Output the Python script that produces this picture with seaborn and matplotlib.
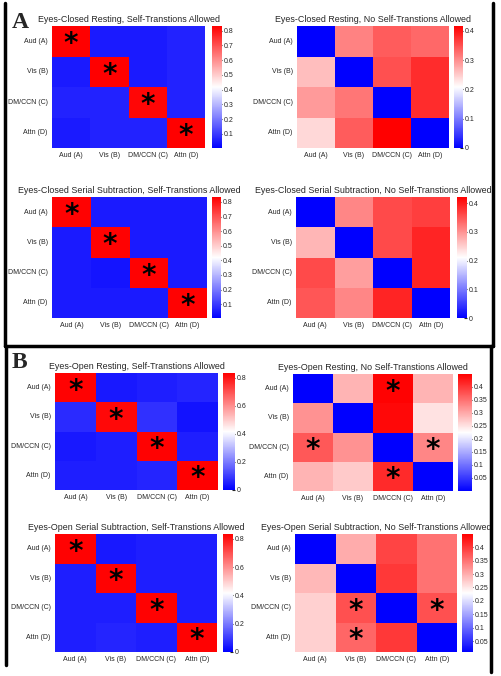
import numpy as np
import pandas as pd
import seaborn as sns
import matplotlib.pyplot as plt
from matplotlib.lines import Line2D

sns.set_style("white")
plt.rcParams['font.family'] = ['Liberation Sans', 'DejaVu Sans']

states = ["Aud (A)", "Vis (B)", "DM/CCN (C)", "Attn (D)"]

# transition probabilities (row = from, col = to)
ec_rest_self = [[0.83, 0.05, 0.05, 0.06],
                [0.05, 0.83, 0.05, 0.06],
                [0.06, 0.06, 0.82, 0.06],
                [0.05, 0.06, 0.06, 0.83]]
ec_rest_noself = [[0.00, 0.31, 0.34, 0.33],
                  [0.26, 0.00, 0.35, 0.38],
                  [0.29, 0.32, 0.00, 0.38],
                  [0.24, 0.34, 0.416, 0.00]]
ec_ss_self = [[0.83, 0.05, 0.05, 0.05],
              [0.05, 0.83, 0.05, 0.05],
              [0.05, 0.04, 0.83, 0.05],
              [0.05, 0.05, 0.05, 0.83]]
ec_ss_noself = [[0.00, 0.31, 0.36, 0.37],
                [0.27, 0.00, 0.36, 0.39],
                [0.36, 0.29, 0.00, 0.39],
                [0.35, 0.31, 0.39, 0.00]]
eo_rest_self = [[0.83, 0.04, 0.05, 0.06],
                [0.07, 0.82, 0.08, 0.03],
                [0.04, 0.05, 0.83, 0.05],
                [0.05, 0.05, 0.06, 0.835]]
eo_rest_noself = [[0.00, 0.29, 0.445, 0.29],
                  [0.32, 0.00, 0.44, 0.25],
                  [0.37, 0.32, 0.00, 0.33],
                  [0.29, 0.27, 0.41, 0.00]]
eo_ss_self = [[0.83, 0.04, 0.05, 0.05],
              [0.05, 0.83, 0.05, 0.05],
              [0.05, 0.05, 0.83, 0.05],
              [0.05, 0.06, 0.05, 0.83]]
eo_ss_noself = [[0.01, 0.30, 0.39, 0.35],
                [0.29, 0.01, 0.40, 0.35],
                [0.27, 0.38, 0.01, 0.38],
                [0.27, 0.36, 0.40, 0.01]]

diag_stars = [(0, 0), (1, 1), (2, 2), (3, 3)]
eo_rest_noself_stars = [(0, 2), (2, 0), (2, 3), (3, 2)]
eo_ss_noself_stars = [(2, 1), (2, 3), (3, 1)]

titles = [
    "Eyes-Closed Resting, Self-Transtions Allowed",
    "Eyes-Closed Resting, No Self-Transtions Allowed",
    "Eyes-Closed Serial Subtraction, Self-Transtions Allowed",
    "Eyes-Closed Serial Subtraction, No Self-Transtions Allowed",
    "Eyes-Open Resting, Self-Transtions Allowed",
    "Eyes-Open Resting, No Self-Transtions Allowed",
    "Eyes-Open Serial Subtraction, Self-Transtions Allowed",
    "Eyes-Open Serial Subtraction, No Self-Transtions Allowed",
]

W, H = 501, 676
fig = plt.figure(figsize=(W / 100, H / 100), dpi=100)

def px_box(x0, y0, x1, y1):
    return [x0 / W, 1 - y1 / H, (x1 - x0) / W, (y1 - y0) / H]

# (heatmap box, colorbar box) in pixels
boxes = [
    ((52, 26, 205, 148), (212, 26, 222, 148)),
    ((297, 26, 449, 148), (454, 26, 463, 148)),
    ((52, 197, 207, 318), (212, 197, 221, 318)),
    ((296, 197, 450, 318), (457, 197, 467, 318)),
    ((55, 373, 218, 490), (223, 373, 235, 490)),
    ((293, 374, 453, 491), (458, 374, 472, 491)),
    ((55, 534, 217, 652), (223, 534, 233, 652)),
    ((295, 534, 457, 652), (462, 534, 473, 652)),
]

panels = [
    (ec_rest_self, diag_stars, 0.005, 0.832, [0.1, 0.2, 0.3, 0.4, 0.5, 0.6, 0.7, 0.8]),
    (ec_rest_noself, [], 0.0, 0.416, [0, 0.1, 0.2, 0.3, 0.4]),
    (ec_ss_self, diag_stars, 0.005, 0.834, [0.1, 0.2, 0.3, 0.4, 0.5, 0.6, 0.7, 0.8]),
    (ec_ss_noself, [], 0.0, 0.421, [0, 0.1, 0.2, 0.3, 0.4]),
    (eo_rest_self, diag_stars, 0.0, 0.835, [0, 0.2, 0.4, 0.6, 0.8]),
    (eo_rest_noself, eo_rest_noself_stars, 0.0, 0.448,
     [0.05, 0.1, 0.15, 0.2, 0.25, 0.3, 0.35, 0.4]),
    (eo_ss_self, diag_stars, 0.0, 0.835, [0, 0.2, 0.4, 0.6, 0.8]),
    (eo_ss_noself, eo_ss_noself_stars, 0.01, 0.449,
     [0.05, 0.1, 0.15, 0.2, 0.25, 0.3, 0.35, 0.4]),
]

for (vals, stars, lo, hi, ticks), title, (hb, cb) in zip(panels, titles, boxes):
    ax = fig.add_axes(px_box(*hb))
    cax = fig.add_axes(px_box(*cb))
    df = pd.DataFrame(vals, index=states, columns=states)
    labels = np.full((4, 4), "", dtype=object)
    for r, c in stars:
        labels[r, c] = "*"
    sns.heatmap(df, ax=ax, cbar_ax=cax, cmap="bwr", vmin=lo, vmax=hi,
                annot=labels, fmt="",
                annot_kws={"size": 20, "color": "black", "family": "DejaVu Sans",
                           "weight": "bold", "va": "center_baseline"},
                cbar_kws={"ticks": ticks})
    ax.set_title(title, fontsize=6.4, pad=3)
    ax.set_xlabel("")
    ax.set_ylabel("")
    ax.tick_params(axis="both", labelsize=5.0, length=0, pad=3)
    ax.set_yticklabels(states, rotation=0)
    ax.set_xticklabels(states, rotation=0)
    cax.tick_params(labelsize=5, length=2, direction="in", pad=1)
    cax.set_yticklabels([f"{t:g}" for t in ticks])

# panel frames and letters
lw = 2.5
def seg(x0, y0, x1, y1):
    fig.add_artist(Line2D([x0 / W, x1 / W], [1 - y0 / H, 1 - y1 / H],
                          color="black", lw=lw, transform=fig.transFigure))

seg(5, 3, 5, 346)
seg(493, 3, 493, 346)
seg(5, 346, 493, 346)
seg(6, 346, 6, 665)
seg(491, 346, 491, 672)

fig.text(12 / W, 1 - 28 / H, "A", fontsize=17, family="Liberation Serif", fontweight="bold")
fig.text(12 / W, 1 - 368 / H, "B", fontsize=17, family="Liberation Serif", fontweight="bold")

fig.savefig("out.png", dpi=100)
